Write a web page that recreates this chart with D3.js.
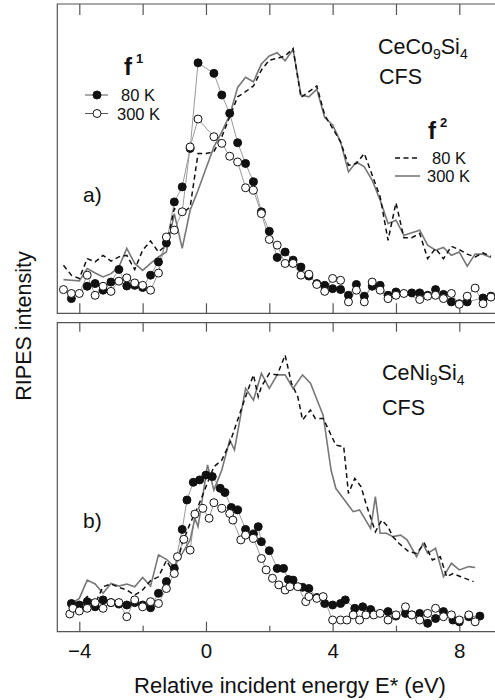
<!DOCTYPE html>
<html lang="en">
<head>
  <meta charset="UTF-8">
  <title>RIPES CFS spectra</title>
  <style>
    body { margin: 0; background: #fff; }
    svg { display: block; font-family: 'Liberation Sans', Arial, sans-serif; }
    .frame { fill: none; stroke: #555; stroke-width: 1.2; }
    .tick line { stroke: #555; stroke-width: 1.2; }
    .f1line { fill: none; stroke: #9a9a9a; stroke-width: 1; }
    .f2solid { fill: none; stroke: #777; stroke-width: 1.6; }
    .f2dash { fill: none; stroke: #111; stroke-width: 1.5; stroke-dasharray: 5,3.5; }
    .dot80 { fill: #111; stroke: #111; stroke-width: 1; }
    .dot300 { fill: #fff; stroke: #111; stroke-width: 1; }
  </style>
</head>
<body>
  <svg width="495" height="700"></svg>
  <script src="https://cdn.jsdelivr.net/npm/d3@7"></script>
  <script>
    // tick labels
    var majorTicks = [-4, 0, 4, 8]
    var allTicks = [-4, -2, 0, 2, 4, 6, 8]
    var minorTicks = [-2, 2, 6]

    // panel a) CeCo9Si4, [E (eV), intensity (arb. units)]
    var aF1_80 = [[-4.25,4.9],[-3.75,9.0],[-3.5,9.9],[-3.25,7.7],[-3.0,10.4],[-2.75,14.6],[-2.5,9.1],[-2.25,9.3],[-2.0,8.6],[-1.75,12.7],[-1.5,17.1],[-1.25,23.4],[-1.0,37.1],[-0.75,42.1],[-0.5,54.9],[-0.25,83.4],[0.25,79.9],[0.5,72.7],[0.75,66.6],[1.0,56.8],[1.25,49.9],[1.5,43.8],[1.75,33.8],[2.0,27.3],[2.25,18.6],[2.5,20.4],[2.75,17.7],[3.0,15.4],[3.25,12.4],[3.5,9.9],[3.75,9.3],[4.0,8.2],[4.25,7.9],[4.5,6.0],[4.75,9.6],[5.0,5.7],[5.25,9.0],[5.5,9.3],[5.75,6.0],[6.0,7.1],[6.5,6.8],[6.75,6.8],[7.0,6.0],[7.25,7.9],[7.5,6.3],[7.75,3.8],[8.0,3.2],[8.25,3.8],[8.75,5.1],[9.0,5.7]]
    var aF1_300 = [[-4.5,7.9],[-4.25,6.6],[-4.0,6.6],[-3.75,12.7],[-3.5,6.0],[-3.25,9.0],[-3.0,7.3],[-2.75,10.7],[-2.5,11.8],[-2.25,10.1],[-2.0,9.3],[-1.75,7.7],[-1.5,13.4],[-1.25,25.4],[-1.0,27.7],[-0.75,33.8],[-0.5,55.4],[-0.25,64.7],[0.25,58.8],[0.5,56.6],[0.75,52.3],[1.0,50.4],[1.25,41.8],[1.5,41.0],[1.75,33.2],[2.0,24.6],[2.25,22.7],[2.5,16.6],[2.75,16.6],[3.0,12.7],[3.25,13.0],[3.5,9.6],[3.75,7.3],[4.0,11.6],[4.25,11.0],[4.5,3.8],[4.75,7.7],[5.0,3.8],[5.25,10.4],[5.5,7.7],[5.75,4.9],[6.0,6.0],[6.25,6.6],[6.75,4.6],[7.0,5.7],[7.25,6.0],[7.5,4.9],[7.75,6.6],[8.0,3.0],[8.25,5.7],[8.5,8.4],[8.75,3.2],[9.0,5.4]]
    var aF2_80 = [[-4.5,16.0],[-4.25,12.7],[-4.0,11.6],[-3.75,18.2],[-3.5,17.1],[-3.25,19.3],[-3.0,17.4],[-2.75,18.8],[-2.5,19.3],[-2.25,14.6],[-2.0,21.0],[-1.75,24.1],[-1.5,20.4],[-1.25,22.7],[-1.0,34.9],[-0.75,33.2],[-0.5,35.4],[-0.25,53.2],[0.0,53.2],[0.25,53.8],[0.5,58.8],[0.75,65.4],[1.0,72.1],[1.25,73.8],[1.5,75.7],[1.75,81.0],[2.0,84.3],[2.25,84.9],[2.5,85.7],[2.75,88.2],[3.0,71.9],[3.25,73.8],[3.5,75.7],[3.75,66.0],[4.0,61.6],[4.25,57.1],[4.5,49.3],[4.75,49.9],[5.0,53.2],[5.25,46.0],[5.5,38.8],[5.75,24.3],[6.0,36.8],[6.25,25.2],[6.5,25.2],[6.75,26.6],[7.0,18.2],[7.25,21.6],[7.5,18.2],[7.75,22.3],[8.0,21.2],[8.25,19.7],[8.5,18.8],[8.75,20.1],[9.0,19.0]]
    var aF2_300 = [[-4.5,11.2],[-4.25,11.0],[-4.0,10.8],[-3.75,14.9],[-3.5,13.4],[-3.25,12.1],[-3.0,13.2],[-2.75,15.4],[-2.5,21.6],[-2.25,16.6],[-2.0,14.3],[-1.75,16.6],[-1.5,18.8],[-1.25,20.4],[-1.0,33.2],[-0.75,21.6],[-0.5,34.3],[-0.25,41.0],[0.0,48.2],[0.25,55.4],[0.5,60.4],[0.75,66.0],[1.0,75.2],[1.25,78.6],[1.5,77.1],[1.75,83.0],[2.0,85.7],[2.25,86.8],[2.5,84.1],[2.75,87.9],[3.0,72.7],[3.25,72.1],[3.5,74.6],[3.75,65.2],[4.0,62.7],[4.25,57.1],[4.5,47.1],[4.75,50.4],[5.0,48.8],[5.25,44.3],[5.5,37.7],[5.75,29.9],[6.0,31.0],[6.25,26.0],[6.5,26.8],[6.75,27.7],[7.0,22.7],[7.25,21.0],[7.5,21.9],[7.75,19.3],[8.0,20.4],[8.25,15.7],[8.5,19.7],[8.75,19.7],[9.0,18.6]]

    // panel b) CeNi9Si4
    var bF1_80 = [[-4.25,9.4],[-4.0,8.9],[-3.75,10.0],[-3.5,8.3],[-3.25,10.6],[-3.0,9.7],[-2.75,9.2],[-2.5,8.9],[-2.25,9.7],[-2.0,8.9],[-1.75,8.0],[-1.5,12.8],[-1.25,16.7],[-1.0,21.1],[-0.75,34.1],[-0.6,43.9],[-0.4,49.8],[-0.2,50.6],[0.0,52.2],[0.2,51.7],[0.45,47.8],[0.6,46.4],[0.8,41.4],[1.0,40.6],[1.25,34.1],[1.5,32.6],[1.65,35.0],[1.75,30.0],[2.0,27.0],[2.25,21.1],[2.45,21.1],[2.6,17.4],[2.75,17.2],[3.05,14.8],[3.25,14.4],[3.5,11.4],[3.75,9.4],[4.0,8.9],[4.25,9.4],[4.4,10.6],[4.7,7.8],[4.95,8.3],[5.2,7.4],[5.75,6.7],[6.0,5.2],[6.3,6.1],[6.5,5.6],[6.75,6.1],[7.0,2.8],[7.25,4.4],[7.5,6.7],[7.8,3.9],[8.0,3.3],[8.3,5.0],[8.65,5.2]]
    var bF1_300 = [[-4.3,5.9],[-4.2,7.8],[-4.0,6.9],[-3.75,7.8],[-3.5,9.7],[-3.25,7.8],[-3.0,9.7],[-2.75,9.7],[-2.5,5.0],[-2.25,10.6],[-2.0,8.3],[-1.75,10.0],[-1.5,9.4],[-1.25,14.4],[-1.0,19.4],[-0.9,25.0],[-0.7,30.8],[-0.5,27.2],[-0.35,39.2],[-0.1,41.1],[0.1,37.8],[0.25,43.0],[0.5,41.1],[0.75,39.4],[0.85,37.2],[1.1,30.6],[1.25,32.2],[1.5,31.1],[1.75,24.4],[1.9,20.6],[2.1,17.8],[2.3,15.6],[2.5,13.9],[2.65,15.0],[2.9,15.0],[3.15,10.0],[3.25,11.7],[3.5,11.1],[3.7,11.7],[4.0,3.9],[4.25,3.9],[4.45,3.9],[4.65,5.6],[4.85,3.9],[5.05,5.6],[5.3,5.6],[5.5,6.1],[5.75,3.9],[6.0,5.6],[6.3,8.3],[6.5,5.6],[6.75,3.9],[7.0,6.1],[7.25,7.8],[7.5,5.0],[7.75,5.6],[8.0,3.9],[8.3,5.6],[8.5,3.3]]
    var bF2_80 = [[-4.25,10.6],[-4.0,8.9],[-3.75,11.7],[-3.5,9.4],[-3.25,15.0],[-3.0,15.9],[-2.75,14.8],[-2.5,13.9],[-2.25,12.2],[-2.0,13.9],[-1.75,17.0],[-1.5,18.3],[-1.25,23.7],[-1.0,19.4],[-0.75,29.4],[-0.5,36.1],[-0.25,41.7],[0.0,48.3],[0.25,55.0],[0.5,57.2],[0.75,62.8],[1.0,70.6],[1.25,78.3],[1.5,85.6],[1.65,78.3],[1.75,81.7],[2.0,86.1],[2.25,85.6],[2.5,92.2],[2.7,82.8],[2.9,78.3],[3.05,70.6],[3.3,73.9],[3.45,71.1],[3.7,71.1],[3.9,66.7],[4.1,62.2],[4.35,61.7],[4.5,46.1],[4.7,51.1],[4.9,48.3],[5.05,42.8],[5.35,33.3],[5.55,37.2],[5.75,35.0],[5.9,31.7],[6.1,29.4],[6.4,26.7],[6.65,26.1],[6.9,29.4],[7.15,23.9],[7.4,25.0],[7.6,18.3],[7.8,19.4],[8.05,18.3],[8.45,16.7]]
    var bF2_300 = [[-4.25,9.4],[-4.0,11.1],[-3.75,17.2],[-3.5,15.9],[-3.25,12.8],[-3.0,16.1],[-2.75,15.2],[-2.5,15.9],[-2.25,15.0],[-2.0,18.1],[-1.75,15.2],[-1.5,25.6],[-1.25,24.1],[-1.0,21.7],[-0.75,26.1],[-0.5,30.6],[-0.35,37.8],[-0.25,35.0],[0.05,55.6],[0.25,47.2],[0.5,53.9],[0.75,63.9],[0.9,60.6],[1.25,81.1],[1.5,77.2],[1.75,86.1],[2.0,81.1],[2.25,85.6],[2.5,85.6],[2.75,81.1],[3.05,85.6],[3.3,82.8],[3.7,72.2],[3.95,53.9],[4.1,47.8],[4.45,42.8],[4.65,40.0],[4.85,40.6],[5.2,34.4],[5.35,45.0],[5.5,32.8],[5.7,32.8],[5.9,31.7],[6.15,32.2],[6.35,30.6],[6.65,25.0],[6.85,29.4],[7.0,26.1],[7.25,27.8],[7.5,18.3],[7.75,22.8],[8.0,20.6],[8.3,21.7],[8.5,21.4]]

    var svg = d3.select('svg')
    var left = 57.3, right = 496

    var x = d3.scaleLinear().domain([-4, 8]).range([79.3, 459.3])

    var panels = [
      { top: 4, bottom: 313.3, f1a: aF1_80, f1b: aF1_300, f2a: aF2_80, f2b: aF2_300, bottomAxis: false },
      { top: 322.7, bottom: 631.7, f1a: bF1_80, f1b: bF1_300, f2a: bF2_80, f2b: bF2_300, bottomAxis: true }
    ]

    var line = function(y) {
      return d3.line().x(function(d) { return x(d[0]) }).y(function(d) { return y(d[1]) })
    }

    panels.forEach(function(p) {
      var y = d3.scaleLinear().domain([0, 103]).range([p.bottom, p.top])
      var g = svg.append('g')
      var clipId = 'clip' + Math.round(p.top)
      g.append('clipPath').attr('id', clipId)
        .append('rect').attr('x', left).attr('y', p.top).attr('width', right - left).attr('height', p.bottom - p.top)

      // frame (right side falls outside the picture)
      g.append('path').attr('class', 'frame')
        .attr('d', 'M' + right + ',' + p.top + 'H' + left + 'V' + p.bottom + 'H' + right)

      // inward ticks
      var topAx = g.append('g')
        .attr('transform', 'translate(0,' + p.top + ')')
        .call(d3.axisTop(x).tickValues(allTicks).tickSize(-(p.bottomAxis ? 9 : 11)).tickFormat(''))
      topAx.select('.domain').remove()

      if (!p.bottomAxis) {
        var botAx = g.append('g')
          .attr('transform', 'translate(0,' + p.bottom + ')')
          .call(d3.axisBottom(x).tickValues(allTicks).tickSize(-10).tickFormat(''))
        botAx.select('.domain').remove()
      } else {
        var major = g.append('g')
          .attr('transform', 'translate(0,' + p.bottom + ')')
          .call(d3.axisBottom(x).tickValues(majorTicks).tickSize(-10).tickPadding(12))
        major.select('.domain').remove()
        major.selectAll('text').attr('font-size', 20.5).attr('fill', '#111')
          .attr('font-family', "'Liberation Sans', Arial, sans-serif")
        var minor = g.append('g')
          .attr('transform', 'translate(0,' + p.bottom + ')')
          .call(d3.axisBottom(x).tickValues(minorTicks).tickSize(-6).tickFormat(''))
        minor.select('.domain').remove()
      }

      var plot = g.append('g').attr('clip-path', 'url(#' + clipId + ')')
      plot.append('path').datum(p.f1a).attr('class', 'f1line').attr('d', line(y))
      plot.append('path').datum(p.f1b).attr('class', 'f1line').attr('d', line(y))
      plot.append('path').datum(p.f2b).attr('class', 'f2solid').attr('d', line(y))
      plot.append('path').datum(p.f2a).attr('class', 'f2dash').attr('d', line(y))

      plot.selectAll('.dot80').data(p.f1a).enter().append('circle')
        .attr('class', 'dot80')
        .attr('cx', function(d) { return x(d[0]) })
        .attr('cy', function(d) { return y(d[1]) })
        .attr('r', 4)
      plot.selectAll('.dot300').data(p.f1b).enter().append('circle')
        .attr('class', 'dot300')
        .attr('cx', function(d) { return x(d[0]) })
        .attr('cy', function(d) { return y(d[1]) })
        .attr('r', 4)
    })

    // compound labels
    function compound(xp, yp, parts) {
      var t = svg.append('text').attr('x', xp).attr('y', yp).attr('font-size', 21.5).attr('fill', '#111')
      t.append('tspan').text(parts[0])
      t.append('tspan').attr('font-size', 14).attr('dy', 5).text(parts[1])
      t.append('tspan').attr('dy', -5).text(parts[2])
      t.append('tspan').attr('font-size', 14).attr('dy', 5).text(parts[3])
    }
    compound(378, 53.5, ['CeCo', '9', 'Si', '4'])
    svg.append('text').attr('x', 379).attr('y', 83.5).attr('font-size', 21.5).attr('fill', '#111').text('CFS')
    compound(382, 380, ['CeNi', '9', 'Si', '4'])
    svg.append('text').attr('x', 382).attr('y', 415).attr('font-size', 21.5).attr('fill', '#111').text('CFS')

    svg.append('text').attr('x', 83).attr('y', 201.5).attr('font-size', 21).attr('fill', '#111').text('a)')
    svg.append('text').attr('x', 83).attr('y', 528).attr('font-size', 21).attr('fill', '#111').text('b)')

    // f1 / f2 legends
    function fLabel(xp, yp, sup) {
      var t = svg.append('text').attr('x', xp).attr('y', yp).attr('font-size', 24)
        .attr('font-weight', 'bold').attr('fill', '#111')
      t.append('tspan').text('f')
      t.append('tspan').attr('font-size', 13).attr('dx', 4).attr('dy', -12).text(sup)
    }
    fLabel(124, 75, '1')
    fLabel(428, 139, '2')

    var leg1 = [{ cls: 'dot80', label: '80 K', y: 95, tx: 121 }, { cls: 'dot300', label: '300 K', y: 113.5, tx: 117 }]
    leg1.forEach(function(d) {
      svg.append('line').attr('class', 'f1line').attr('x1', 85).attr('x2', 108).attr('y1', d.y).attr('y2', d.y)
        .style('stroke', '#555')
      svg.append('circle').attr('class', d.cls).attr('cx', 97).attr('cy', d.y).attr('r', 4)
      svg.append('text').attr('x', d.tx).attr('y', d.y + 6).attr('font-size', 16.5).attr('fill', '#111').text(d.label)
    })

    var leg2 = [{ cls: 'f2dash', label: '80 K', y: 158, tx: 432 }, { cls: 'f2solid', label: '300 K', y: 176, tx: 427 }]
    leg2.forEach(function(d) {
      svg.append('line').attr('class', d.cls).attr('x1', 395).attr('x2', 420).attr('y1', d.y).attr('y2', d.y)
      svg.append('text').attr('x', d.tx).attr('y', d.y + 6).attr('font-size', 16.5).attr('fill', '#111').text(d.label)
    })

    // axis titles
    svg.append('text')
      .attr('transform', 'translate(31,326) rotate(-90)')
      .attr('text-anchor', 'middle')
      .attr('font-size', 21.5).attr('fill', '#111')
      .text('RIPES intensity')
    svg.append('text')
      .attr('x', 290).attr('y', 693)
      .attr('text-anchor', 'middle')
      .attr('font-size', 22).attr('fill', '#111')
      .text('Relative incident energy E* (eV)')
  </script>
</body>
</html>
